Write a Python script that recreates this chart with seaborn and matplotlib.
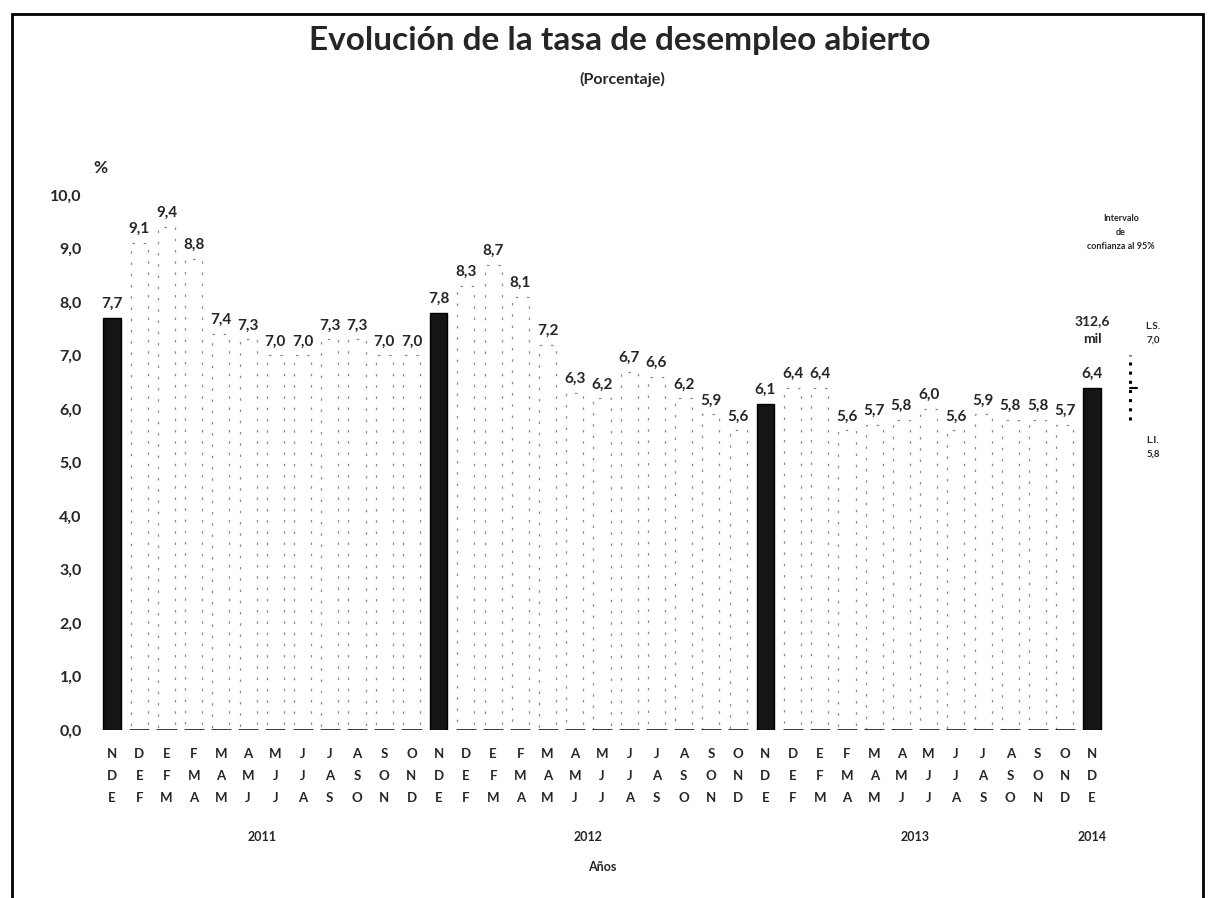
import pandas as pd
import numpy as np
import matplotlib
matplotlib.use("Agg")
import matplotlib.pyplot as plt
import matplotlib.transforms as mtransforms
from matplotlib.patches import Rectangle
import seaborn as sns

# tasa de desempleo abierto, trimestres moviles (N-D-E ... O-N-D)
tasa = [7.7, 9.1, 9.4, 8.8, 7.4, 7.3, 7.0, 7.0, 7.3, 7.3, 7.0, 7.0,
        7.8, 8.3, 8.7, 8.1, 7.2, 6.3, 6.2, 6.7, 6.6, 6.2, 5.9, 5.6,
        6.1, 6.4, 6.4, 5.6, 5.7, 5.8, 6.0, 5.6, 5.9, 5.8, 5.8, 5.7,
        6.4]
tipo = ['NDE' if i % 12 == 0 else 'trimestre' for i in range(len(tasa))]

fila1 = list("NDEFMAMJJASONDEFMAMJJASONDEFMAMJJASON")
fila2 = list("DEFMAMJJASONDEFMAMJJASONDEFMAMJJASOND")
fila3 = list("EFMAMJJASONDEFMAMJJASONDEFMAMJJASONDE")

anios = ['2011', '2012', '2013', '2014']
anio_pos = [5.5, 17.5, 29.5, 36]

# intervalo de confianza al 95% del ultimo trimestre
ci_li = 5.8
ci_ls = 7.0
ocupados = '312,6\nmil'

sns.set_style('white')
plt.rcParams['font.family'] = ['Lato', 'DejaVu Sans']
plt.rcParams['font.weight'] = 'bold'

df = pd.DataFrame({'pos': range(len(tasa)), 'tasa': tasa, 'tipo': tipo})

fig = plt.figure(figsize=(12.09, 8.98), dpi=100)
ax = fig.add_axes([0.0814, 0.1871, 0.8331, 0.5958])

sns.barplot(data=df, x='pos', y='tasa', hue='tipo',
            palette={'NDE': '#151515', 'trimestre': 'white'},
            dodge=False, width=0.63, saturation=1, legend=False, ax=ax)

for cont in ax.containers:
    for p in cont:
        if p.get_facecolor()[0] > 0.5:
            p.set_edgecolor('#8a8a8a')
            p.set_linestyle((0, (2, 7)))
            p.set_linewidth(0.9)
        else:
            p.set_edgecolor('#000000')
            p.set_linewidth(1.0)

# base de las barras claras
claras = df[df.tipo == 'trimestre']
ax.hlines(np.zeros(len(claras)), claras.pos.values - 0.37, claras.pos.values + 0.37,
          color='black', lw=1.8)

for i, v in enumerate(tasa):
    ax.annotate(f"{v:.1f}".replace('.', ','), (i, v), xytext=(0, 5),
                textcoords='offset points', ha='center', va='bottom',
                fontsize=11, fontweight='bold')

ax.set_xlim(-0.5, 36.5)
ax.set_ylim(0, 10)
ax.set_yticks(np.arange(0, 11, 1))
ax.set_yticklabels([f"{t:.1f}".replace('.', ',') for t in np.arange(0, 11, 1)],
                   fontsize=11.5, fontweight='bold')
ax.set_xticks(range(len(tasa)))
ax.set_xticklabels([f"{a}\n{b}\n{c}" for a, b, c in zip(fila1, fila2, fila3)],
                   fontsize=9.5, fontweight='bold', linespacing=2.0)
ax.tick_params(axis='x', length=0, pad=13)
ax.tick_params(axis='y', length=0, pad=12)
ax.set_xlabel('')
ax.set_ylabel('')
for s in ax.spines.values():
    s.set_visible(False)
ax.grid(False)

trans = mtransforms.blended_transform_factory(ax.transData, ax.transAxes)
for a, x in zip(anios, anio_pos):
    ax.text(x, -0.20, a, transform=trans, ha='center', va='center',
            fontsize=9, fontweight='bold')
ax.text(18, -0.256, 'Años', transform=trans, ha='center', va='center',
        fontsize=9, fontweight='bold')

ax.text(-0.44, 10.5, '%', ha='center', va='center', fontsize=12.5,
        fontweight='bold', clip_on=False)

# anotaciones del intervalo de confianza
ax.text(36, 7.47, ocupados, ha='center', va='center', fontsize=10,
        fontweight='bold', linespacing=1.6)
ax.plot([37.4, 37.4], [ci_li, ci_ls], ls=(0, (1, 2)), lw=2.2, color='black',
        clip_on=False)
ax.plot([37.4, 37.65], [tasa[-1], tasa[-1]], lw=1.5, color='black',
        clip_on=False)
ax.text(37.06, 9.3, 'Intervalo\nde\nconfianza al 95%', ha='center',
        va='center', fontsize=6.5, fontweight='bold', linespacing=1.7,
        clip_on=False)
ax.text(38.24, 7.42, "L.S.\n" + f"{ci_ls:.1f}".replace('.', ','),
        ha='center', va='center', fontsize=7, fontweight='bold',
        linespacing=1.7, clip_on=False)
ax.text(38.24, 5.28, "L.I.\n" + f"{ci_li:.1f}".replace('.', ','),
        ha='center', va='center', fontsize=7, fontweight='bold',
        linespacing=1.7, clip_on=False)

fig.text(0.513, 0.955, 'Evolución de la tasa de desempleo abierto',
         ha='center', va='center', fontsize=24, fontweight='bold')
fig.text(0.515, 0.912, '(Porcentaje)', ha='center', va='center',
         fontsize=11.5, fontweight='bold')

fig.patches.append(Rectangle((0.0099, -0.02), 0.985, 1.004, transform=fig.transFigure,
                             fill=False, edgecolor='black', lw=2))

fig.savefig('out.png', dpi=100)
